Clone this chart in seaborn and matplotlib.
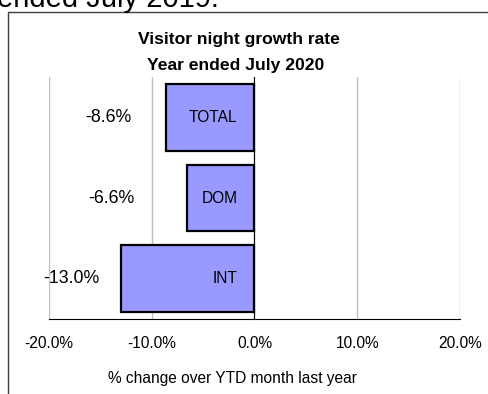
import matplotlib
matplotlib.use("Agg")
import matplotlib.pyplot as plt
from matplotlib.lines import Line2D
from matplotlib.ticker import FixedLocator, FuncFormatter
import seaborn as sns
import pandas as pd

# Visitor night growth, year ended July 2020 (% change on previous year)
segments = ["TOTAL", "DOM", "INT"]
growth = [-8.6, -6.6, -13.0]
value_labels = ["-8.6%", "-6.6%", "-13.0%"]
x_ticks = [-20, -10, 0, 10, 20]

# horizontal nudges (pixels) of the value labels, measured from each bar's end
value_label_offsets = [-35, -52, -21]

sns.set_style("white")
plt.rcParams["font.family"] = ["Liberation Sans", "DejaVu Sans"]
plt.rcParams["text.color"] = "black"
plt.rcParams["axes.labelcolor"] = "black"
plt.rcParams["xtick.color"] = "black"
plt.rcParams["ytick.color"] = "black"

LABEL_SIZE = 11.2
VALUE_SIZE = 12.8
W, H = 489, 394
fig = plt.figure(figsize=(W / 100, H / 100), dpi=100)
ax = fig.add_axes([49 / W, 1 - 319 / H, 411 / W, 242 / H])

df = pd.DataFrame({"segment": segments, "growth": growth})
sns.barplot(data=df, x="growth", y="segment", orient="h", order=segments,
            color="#9999ff", saturation=1, edgecolor="black", linewidth=1.6,
            width=0.83, ax=ax)
ax.set_xlim(-20, 20)
ax.set_ylim(2.5, -0.5)

# x axis: percent ticks with light vertical gridlines
ax.xaxis.set_major_locator(FixedLocator(x_ticks))
ax.xaxis.set_major_formatter(FuncFormatter(lambda v, _: f"{v:.1f}%"))
ax.tick_params(axis="x", direction="out", length=5, width=0.8, color="black",
               labelsize=LABEL_SIZE, pad=7, labelcolor="black")
ax.xaxis.grid(True, color="#c0c0c0", linewidth=1)
ax.yaxis.grid(False)
ax.set_axisbelow(True)

# category axis sits on the zero line, ticks between categories
ax.spines["left"].set_position(("data", 0))
ax.spines["left"].set_color("black")
ax.spines["left"].set_linewidth(0.8)
ax.spines["bottom"].set_color("black")
ax.spines["bottom"].set_linewidth(0.8)
ax.spines["top"].set_visible(False)
ax.spines["right"].set_visible(False)
ax.set_yticks(range(len(segments)))
ax.set_yticklabels([])
ax.set_yticks([i - 0.5 for i in range(len(segments) + 1)], minor=True)
ax.tick_params(axis="y", which="major", length=0)
ax.tick_params(axis="y", which="minor", direction="out", length=5, width=0.8,
               color="black")
ax.set_ylabel("")

# category names inside the bars, value labels beyond the bar ends
for i, (seg, val, lab, off) in enumerate(zip(segments, growth, value_labels,
                                              value_label_offsets)):
    ax.annotate(seg, xy=(0, i), xytext=(-17 * 0.72, 0), textcoords="offset points",
                ha="right", va="center", fontsize=LABEL_SIZE, color="black")
    ax.annotate(lab, xy=(val, i), xytext=(off * 0.72, 0), textcoords="offset points",
                ha="right", va="center", fontsize=VALUE_SIZE, color="black")

ax.set_xlabel("% change over YTD month last year", fontsize=LABEL_SIZE,
              color="black")
ax.xaxis.label.set_va("baseline")
ax.xaxis.set_label_coords((232.5 - 49) / 411, -(383 - 319) / 242)

# chart title
fig.text(239 / W, 1 - 43.7 / H, "Visitor night growth rate", ha="center",
         va="baseline", fontsize=12.6, fontweight="bold", color="black")
fig.text(236 / W, 1 - 69.7 / H, "Year ended July 2020", ha="center",
         va="baseline", fontsize=12.6, fontweight="bold", color="black")

# surrounding report text and chart frame
fig.text(-3 / W, 1 - 7.3 / H, "ended July 2019.", ha="left", va="baseline",
         fontsize=21, color="black")
fig.add_artist(Line2D([8.3 / W, 1.0], [1 - 12.3 / H, 1 - 12.3 / H],
                      transform=fig.transFigure, color="#404040", linewidth=1))
fig.add_artist(Line2D([8.3 / W, 8.3 / W], [0, 1 - 12.3 / H],
                      transform=fig.transFigure, color="#404040", linewidth=1))

fig.savefig("out.png", dpi=100)
